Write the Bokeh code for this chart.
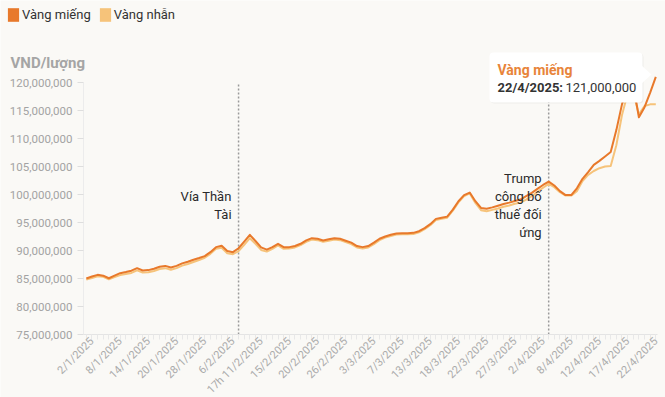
import math
from bokeh.plotting import figure
from bokeh.models import (Range1d, FixedTicker, NumeralTickFormatter, Legend, LegendItem,
                          Label, BoxAnnotation, PolyAnnotation)
from bokeh.embed import file_html
from bokeh.resources import INLINE

FONT = "Roboto"
BG = "#faf9f6"
UNIT = 1_000_000

series_names = ["Vàng miếng", "Vàng nhẫn"]
series_colors = ["#e8792b", "#f6c37a"]

tick_labels = ["2/1/2025", "8/1/2025", "14/1/2025", "20/1/2025", "28/1/2025", "6/2/2025",
               "17h 11/2/2025", "15/2/2025", "20/2/2025", "26/2/2025", "3/3/2025", "7/3/2025",
               "13/3/2025", "18/3/2025", "22/3/2025", "27/3/2025", "2/4/2025", "8/4/2025",
               "12/4/2025", "17/4/2025", "22/4/2025"]
tick_positions = [1, 6, 11, 16, 21, 26, 31, 36, 41, 46, 51, 56, 61, 66, 71, 76, 81, 86, 91, 96, 101]

# VND per luong, in millions
mieng = [85.0, 85.35, 85.65, 85.5, 85.05, 85.5, 85.95, 86.15, 86.4, 86.84,
         86.43, 86.5, 86.75, 87.1, 87.25, 86.95, 87.25, 87.7, 88.0, 88.35,
         88.65, 89.0, 89.7, 90.6, 90.85, 89.9, 89.7, 90.4, 91.6, 92.8,
         91.7, 90.55, 90.15, 90.6, 91.2, 90.6, 90.6, 90.8, 91.2, 91.8,
         92.2, 92.1, 91.8, 92.0, 92.2, 92.1, 91.75, 91.4, 90.8, 90.6,
         90.8, 91.4, 92.1, 92.5, 92.8, 93.05, 93.1, 93.1, 93.15, 93.45,
         94.0, 94.7, 95.65, 95.85, 96.05, 97.3, 98.8, 99.9, 100.35, 98.8,
         97.6, 97.45, 97.7, 98.0, 98.3, 98.55, 98.85, 99.1, 99.7, 100.3,
         101.0, 101.7, 102.3, 101.6, 100.6, 99.9, 99.9, 101.1, 102.8, 104.0,
         105.3, 106.0, 106.8, 107.6, 111.5, 116.1, 119.3, 119.6, 113.8, 115.6,
         118.2, 121.0]
nhan = [84.8, 85.1, 85.4, 85.3, 84.85, 85.25, 85.6, 85.8, 86.0, 86.45,
        86.05, 86.1, 86.35, 86.7, 86.85, 86.55, 86.85, 87.3, 87.6, 87.95,
        88.3, 88.7, 89.4, 90.3, 90.5, 89.5, 89.35, 89.9, 91.0, 92.2,
        91.2, 90.1, 89.8, 90.3, 90.9, 90.3, 90.35, 90.55, 90.95, 91.55,
        91.95, 91.85, 91.55, 91.75, 91.95, 91.85, 91.5, 91.15, 90.55, 90.35,
        90.55, 91.15, 91.85, 92.3, 92.6, 92.85, 92.9, 92.9, 92.95, 93.25,
        93.8, 94.5, 95.45, 95.65, 95.85, 97.1, 98.6, 99.7, 100.2, 98.5,
        97.2, 97.0, 97.25, 97.5, 97.8, 98.05, 98.35, 98.55, 99.1, 99.7,
        100.45, 101.2, 101.9, 101.3, 100.4, 99.8, 99.8, 100.6, 102.4, 103.5,
        104.2, 104.7, 105.0, 105.1, 108.8, 114.2, 118.0, 118.2, 114.3, 115.8,
        116.1, 116.1]

y_ticks = [75, 80, 85, 90, 95, 100, 105, 110, 115, 120]

events = ["Vía Thần\nTài", "Trump\ncông bố\nthuế đối\nứng"]
event_positions = [27, 82]

x = list(range(len(mieng)))

# ---- layout (pixels) ----
W, H = 665, 397
PX_LEFT, PX_RIGHT = 83, 657          # plot area left/right edge
PX_Y_LOW, PX_Y_HIGH = 334, 82        # pixel rows of lowest / highest y tick
x_lo, x_hi = -0.5, len(mieng) - 0.7
sx = (PX_RIGHT - PX_LEFT) / (x_hi - x_lo)
sy = (PX_Y_LOW - PX_Y_HIGH) / (y_ticks[-1] - y_ticks[0])
x_start = x_lo - PX_LEFT / sx
x_end = x_lo + (W - PX_LEFT) / sx
y_start = y_ticks[0] - (H - PX_Y_LOW) / sy
y_end = y_ticks[0] + PX_Y_LOW / sy

p = figure(width=W, height=H, output_backend="svg", toolbar_location=None,
           x_range=Range1d(x_start, x_end),
           y_range=Range1d(y_start * UNIT, y_end * UNIT),
           min_border=0, min_border_left=0, min_border_right=0,
           min_border_top=0, min_border_bottom=0,
           background_fill_color=BG, border_fill_color=BG, outline_line_color=None)
p.grid.visible = False

# x axis
xa = p.xaxis[0]
xa.fixed_location = y_ticks[0] * UNIT
xa.bounds = (x_lo, x_hi)
xa.ticker = FixedTicker(ticks=tick_positions, minor_ticks=x)
xa.major_label_overrides = {pos: lab for pos, lab in zip(tick_positions, tick_labels)}
xa.major_label_orientation = math.pi / 4
xa.major_label_standoff = 0
xa.major_label_text_font = FONT
xa.major_label_text_font_size = "11px"
xa.major_label_text_color = "#ababab"
xa.axis_line_color = "#e4e4e4"
xa.minor_tick_out = 5
xa.minor_tick_in = 0
xa.minor_tick_line_color = "#e8e8e8"
xa.major_tick_out = 5
xa.major_tick_in = 0
xa.major_tick_line_color = "#e8e8e8"

# y axis
ya = p.yaxis[0]
ya.fixed_location = x_lo
ya.bounds = (y_ticks[0] * UNIT, y_ticks[-1] * UNIT)
ya.ticker = FixedTicker(ticks=[v * UNIT for v in y_ticks])
ya.formatter = NumeralTickFormatter(format="0,0")
ya.axis_line_color = "#ececec"
ya.major_tick_out = 6
ya.major_tick_in = 0
ya.major_tick_line_color = "#dedede"
ya.minor_tick_line_color = None
ya.major_label_standoff = 5
ya.major_label_text_font = FONT
ya.major_label_text_font_size = "11.5px"
ya.major_label_text_color = "#a3a3a3"

# event markers
p.segment(x0=event_positions, x1=event_positions,
          y0=[y_ticks[0] * UNIT] * len(events), y1=[y_ticks[-1] * UNIT] * len(events),
          line_color="#9a9a9a", line_width=1.5, line_dash="2 2")
for txt, pos in zip(events, event_positions):
    p.add_layout(Label(x=pos, y=H - 205, x_units="data", y_units="screen", x_offset=-7,
                       text=txt, text_font=FONT, text_font_size="13px", text_color="#2a2a2a",
                       text_align="right", text_baseline="middle", text_line_height=1.2))

# series
p.line(x, [v * UNIT for v in nhan], line_color=series_colors[1], line_width=2, line_join="round")
p.line(x, [v * UNIT for v in mieng], line_color=series_colors[0], line_width=2, line_join="round")

# legend (hidden zero-size swatch renderers, one per series)
dummies = []
for c, vals in zip(series_colors, [mieng, nhan]):
    r = p.quad(left=[x[0]], right=[x[0]], top=[vals[0] * UNIT], bottom=[vals[0] * UNIT],
               fill_color=c, line_color=None)
    r.visible = False
    dummies.append(r)
legend = Legend(items=[LegendItem(label=n, renderers=[r]) for n, r in zip(series_names, dummies)],
                orientation="horizontal", location=(6, H - 6 - 17), background_fill_alpha=0,
                border_line_color=None, padding=0, margin=0, spacing=7,
                glyph_width=14, glyph_height=17, label_standoff=2,
                label_text_font=FONT, label_text_font_size="13px", label_text_color="#333333")
p.add_layout(legend)

# y unit title
p.add_layout(Label(x=10, y=H - 62, x_units="screen", y_units="screen", text="VND/lượng",
                   text_font=FONT, text_font_size="15px", text_font_style="bold",
                   text_color="#a5a5a5", text_baseline="middle"))

# tooltip for the last point
TL, TR, TT, TB = 489, 642, 52, 102
p.add_layout(BoxAnnotation(left=TL + 1, right=TR + 1, bottom=H - TB - 1, top=H - TT - 1,
                           left_units="screen", right_units="screen",
                           top_units="screen", bottom_units="screen",
                           fill_color="#000000", fill_alpha=0.05, line_color=None, border_radius=4))
p.add_layout(BoxAnnotation(left=TL, right=TR, bottom=H - TB, top=H - TT,
                           left_units="screen", right_units="screen",
                           top_units="screen", bottom_units="screen",
                           fill_color="#ffffff", fill_alpha=1, line_color=None, border_radius=4))
p.add_layout(PolyAnnotation(xs=[TR - 1, 651, TR - 1], ys=[H - 65, H - 74, H - 83],
                            xs_units="screen", ys_units="screen",
                            fill_color="#ffffff", fill_alpha=1, line_color=None))
p.add_layout(Label(x=TL + 8, y=H - 69, x_units="screen", y_units="screen", text=series_names[0],
                   text_font=FONT, text_font_size="14px", text_font_style="bold",
                   text_color="#e8843a", text_baseline="middle"))
p.add_layout(Label(x=TL + 8, y=H - 87, x_units="screen", y_units="screen",
                   text=tick_labels[-1] + ":",
                   text_font=FONT, text_font_size="13px", text_font_style="bold",
                   text_color="#333333", text_baseline="middle"))
p.add_layout(Label(x=TL + 76, y=H - 87, x_units="screen", y_units="screen",
                   text=f"{int(round(mieng[-1] * UNIT)):,}",
                   text_font=FONT, text_font_size="13px",
                   text_color="#333333", text_baseline="middle"))

open("out.html", "w").write(file_html(p, INLINE))
